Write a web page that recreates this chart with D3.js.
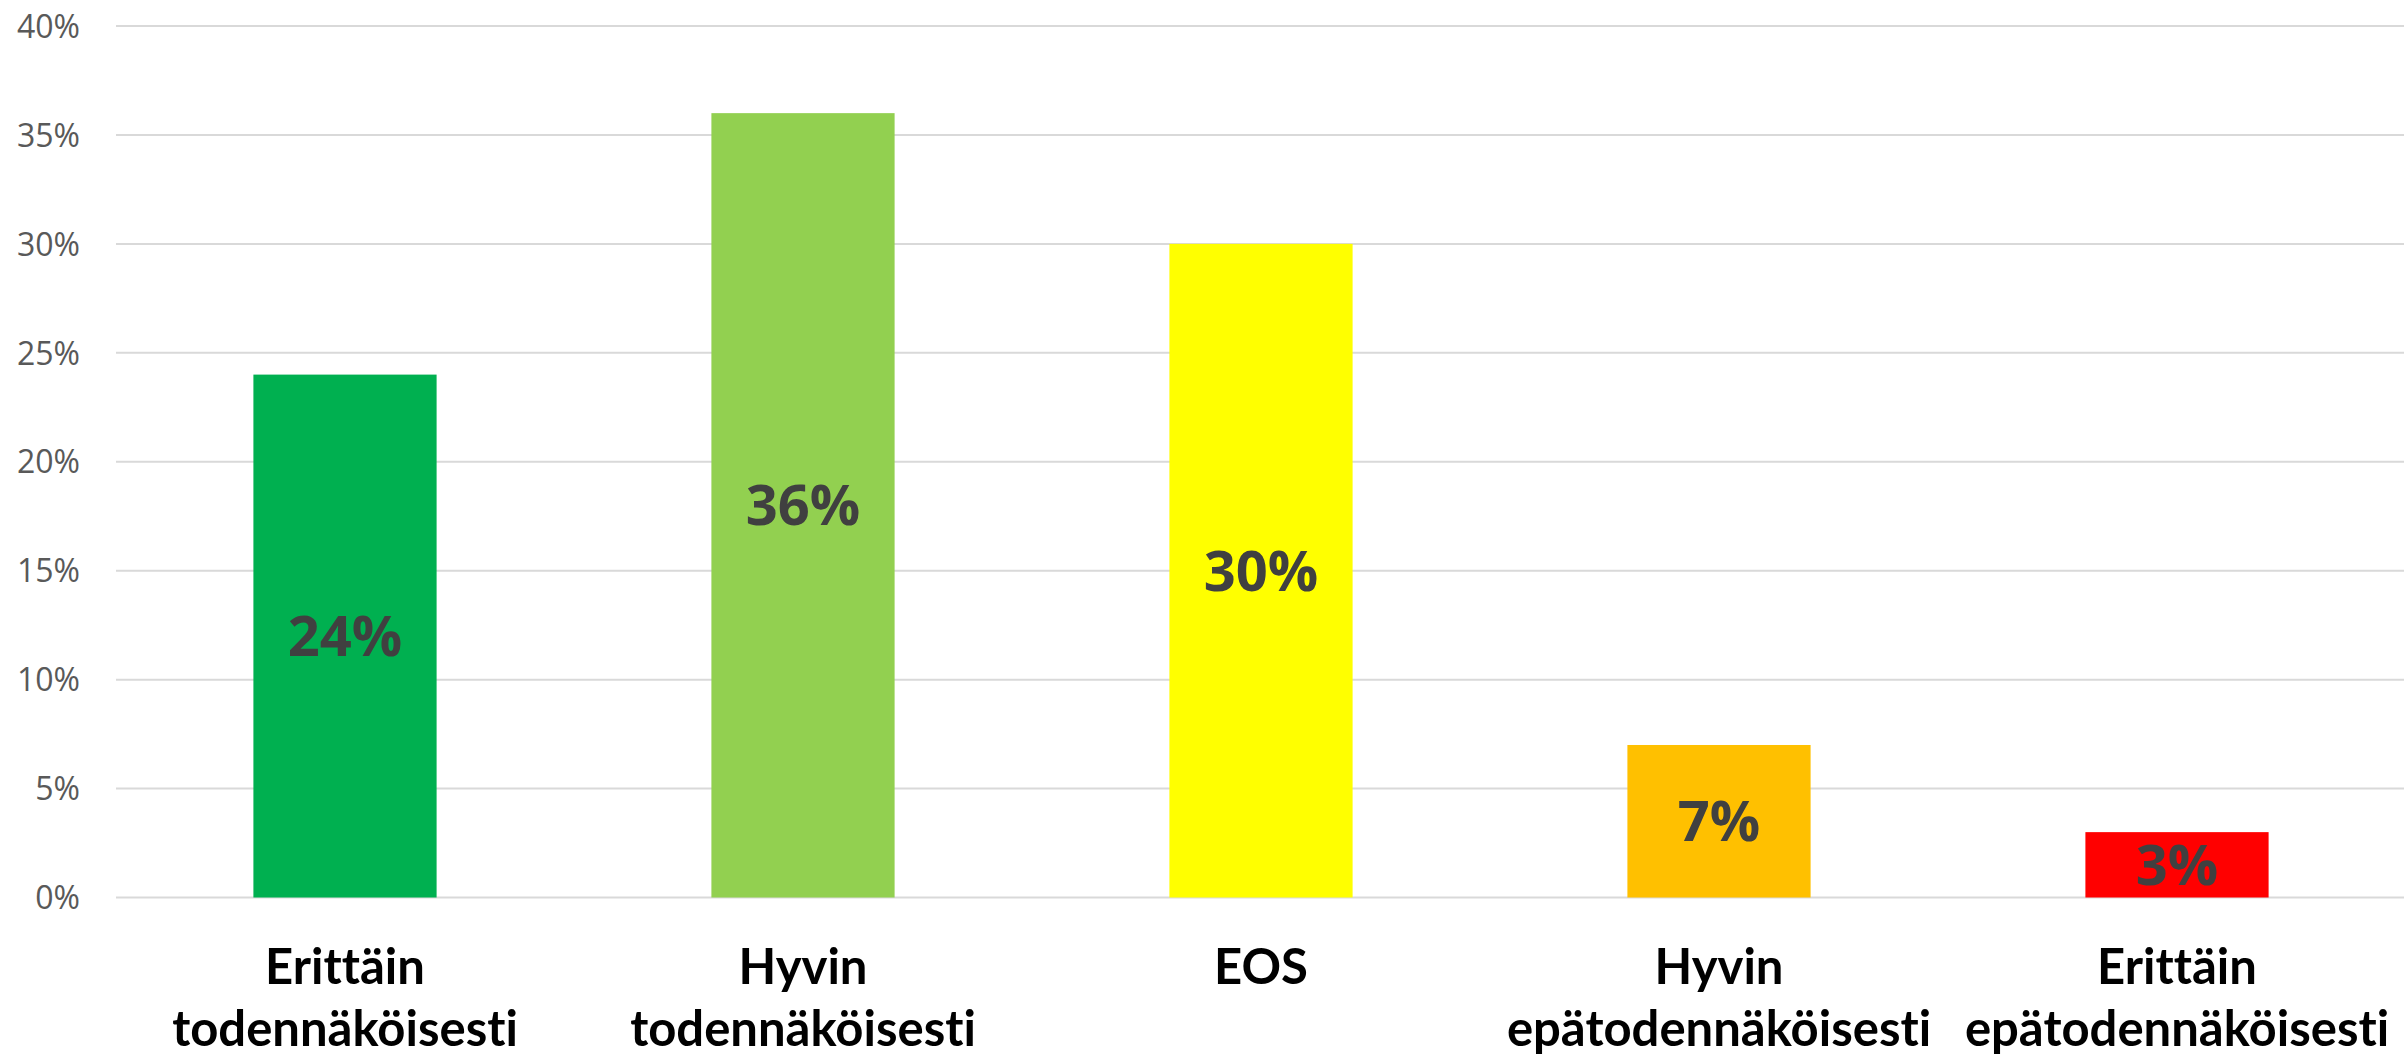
<!DOCTYPE html>
<html><head><meta charset="utf-8">
<script src="https://cdn.jsdelivr.net/npm/d3@7"></script>
<style>html,body{margin:0;padding:0;background:#fff;overflow:hidden} text{font-variant-ligatures:none;font-feature-settings:"liga" 0, "clig" 0;}</style>
</head><body>
<svg id="chart" width="2404" height="1055"></svg>
<script>
const categories = [["Erittäin","todennäköisesti"],["Hyvin","todennäköisesti"],["EOS"],["Hyvin","epätodennäköisesti"],["Erittäin","epätodennäköisesti"]];
const values = [0.24, 0.36, 0.30, 0.07, 0.03];
const colors = ["#00B050","#92D050","#FFFF00","#FFC000","#FF0000"];
const yTicks = [0,0.05,0.10,0.15,0.20,0.25,0.30,0.35,0.40];

(function(){
const svg = d3.select("#chart");
const mLeft = 116, mRight = 2406, mTop = 26, mBottom = 897.5;
const keys = categories.map((c,i)=>String(i));
const x = d3.scaleBand().domain(keys).range([mLeft,mRight]).paddingInner(0.6).paddingOuter(0.3);
const y = d3.scaleLinear().domain([0,0.40]).range([mBottom,mTop]);

svg.append("g").selectAll("line").data(yTicks).join("line")
  .attr("x1",mLeft).attr("x2",2404)
  .attr("y1",d=>y(d)).attr("y2",d=>y(d))
  .attr("stroke","#d9d9d9").attr("stroke-width",2);

const yAxis = d3.axisLeft(y).tickValues(yTicks).tickFormat(d3.format(".0%")).tickSize(0).tickPadding(0);
const ya = svg.append("g").attr("transform","translate(80,0)").call(yAxis);
ya.select(".domain").remove();
ya.selectAll("text").attr("font-family","'Open Sans', sans-serif").attr("font-size",32).attr("fill","#595959").attr("dy","0.35em");

svg.append("g").selectAll("rect").data(values).join("rect")
  .attr("x",(d,i)=>x(keys[i])).attr("width",x.bandwidth())
  .attr("y",d=>y(d)).attr("height",d=>mBottom-y(d))
  .attr("fill",(d,i)=>colors[i]);

svg.append("g").selectAll("text").data(values).join("text")
  .attr("x",(d,i)=>x(keys[i])+x.bandwidth()/2)
  .attr("y",d=>(y(d)+mBottom)/2)
  .attr("dy","0.36em")
  .attr("text-anchor","middle")
  .attr("font-family","'Open Sans', sans-serif").attr("font-weight","bold")
  .attr("font-size",56).attr("fill","#404040")
  .text(d=>d3.format(".0%")(d));

const xl = svg.append("g").selectAll("text").data(categories).join("text")
  .attr("text-anchor","middle")
  .attr("font-family","Lato, sans-serif").attr("font-weight","bold")
  .attr("font-size",49).attr("fill","#000");
xl.each(function(lines,i){
  const t = d3.select(this);
  lines.forEach((ln,j)=>{
    t.append("tspan").attr("x",x(keys[i])+x.bandwidth()/2).attr("y",984+j*62).text(ln);
  });
});
})();
</script>
</body></html>
